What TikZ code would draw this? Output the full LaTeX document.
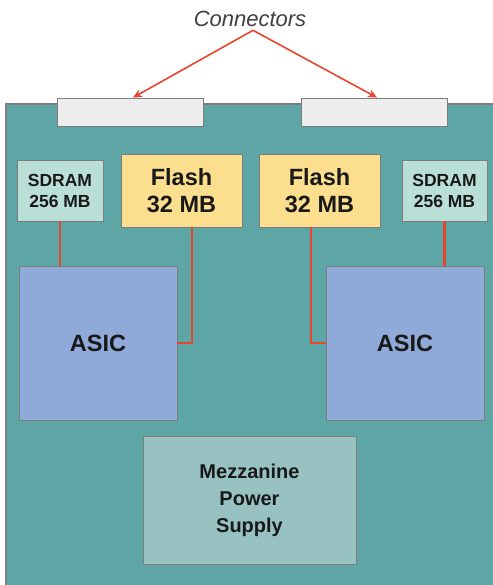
\documentclass[tikz,border=0pt]{standalone}
\usepackage{fontspec}
\setmainfont{Liberation Sans}
\usepackage{tikz}
\usetikzlibrary{calc,arrows.meta}

\definecolor{boardteal}{RGB}{94,165,165}
\definecolor{asicblue}{RGB}{143,170,216}
\definecolor{flashyellow}{RGB}{252,222,143}
\definecolor{sdrammint}{RGB}{186,223,215}
\definecolor{mezzgreen}{RGB}{152,194,194}
\definecolor{connred}{RGB}{230,70,45}
\definecolor{edgegray}{RGB}{125,125,125}

\begin{document}
\begin{tikzpicture}[>={Stealth[length=9pt,width=8pt]},x=1pt,y=-1pt,
  chip/.style={draw=edgegray,line width=0.8pt,inner sep=0pt,align=center,font=\bfseries,text=black!90},
  trace/.style={connred,line width=2.2pt}]
  \useasboundingbox (0,0) rectangle (492,585);
  % board
  \fill[boardteal] (6,104) rectangle (500,590);
  \draw[edgegray,line width=1.5pt] (500,104) -- (6,104) -- (6,590);
  % connectors on the top edge
  \node[chip,fill=black!7,minimum width=146pt,minimum height=28pt] (conL) at (130,112) {};
  \node[chip,fill=black!7,minimum width=146pt,minimum height=28pt] (conR) at (374,112) {};
  \node[font=\itshape\fontsize{22}{26}\selectfont,text=black!75] (lbl) at (250,19) {Connectors};
  \draw[->,connred,line width=1.6pt] ([xshift=3pt]lbl.south) -- ([xshift=3pt]conL.north);
  \draw[->,connred,line width=1.6pt] ([xshift=3pt]lbl.south) -- ([xshift=3pt]conR.north);
  % memories
  \node[chip,fill=sdrammint,minimum width=86pt,minimum height=61pt,font=\bfseries\fontsize{17.5}{21}\selectfont] (sdramL) at (60,190.5) {SDRAM\\256 MB};
  \node[chip,fill=flashyellow,minimum width=121pt,minimum height=73pt,font=\bfseries\fontsize{23.5}{27}\selectfont] (flashL) at (181.5,190.5) {Flash\\32 MB};
  \node[chip,fill=flashyellow,minimum width=121pt,minimum height=73pt,font=\bfseries\fontsize{23.5}{27}\selectfont] (flashR) at (319.5,190.5) {Flash\\32 MB};
  \node[chip,fill=sdrammint,minimum width=85pt,minimum height=61pt,font=\bfseries\fontsize{17.5}{21}\selectfont] (sdramR) at (444.5,190.5) {SDRAM\\256 MB};
  % ASICs
  \node[chip,fill=asicblue,minimum width=158pt,minimum height=154pt,font=\bfseries\fontsize{23.5}{27}\selectfont] (asicL) at (98,343) {ASIC};
  \node[chip,fill=asicblue,minimum width=158pt,minimum height=154pt,font=\bfseries\fontsize{23.5}{27}\selectfont] (asicR) at (405,343) {ASIC};
  % power supply
  \node[chip,fill=mezzgreen,minimum width=213pt,minimum height=128pt,font=\bfseries\fontsize{20}{27}\selectfont] (mezz) at (249.5,500) {Mezzanine\\Power\\Supply};
  % traces
  \draw[trace] (sdramL.south) -- (sdramL.south |- asicL.north);
  \draw[trace] (sdramR.south) -- (sdramR.south |- asicR.north);
  \draw[trace] ([xshift=10.5pt]flashL.south) |- (asicL.east);
  \draw[trace] ([xshift=-8.5pt]flashR.south) |- (asicR.west);
\end{tikzpicture}
\end{document}
